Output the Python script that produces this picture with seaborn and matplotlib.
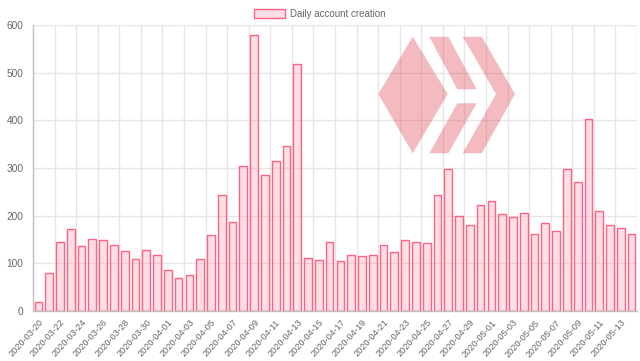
import numpy as np
import pandas as pd
import seaborn as sns
import matplotlib.pyplot as plt
from matplotlib.patches import Polygon, Patch

# daily account creation, 2020-03-20 .. 2020-05-14
dates = pd.date_range("2020-03-20", "2020-05-14").strftime("%Y-%m-%d").tolist()
counts = [18, 79, 144, 171, 136, 151, 148, 139, 126, 110,
          128, 117, 85, 70, 76, 110, 159, 243, 187, 305,
          580, 285, 314, 346, 518, 111, 108, 145, 104, 118,
          115, 118, 138, 123, 148, 144, 143, 243, 298, 199,
          180, 222, 231, 203, 197, 205, 161, 184, 168, 297,
          271, 402, 210, 180, 175, 162]
legend_label = "Daily account creation"

df = pd.DataFrame({"date": dates, "count": counts})

sns.set_style("white")
plt.rcParams["font.family"] = ["Liberation Sans", "DejaVu Sans"]

fig = plt.figure(figsize=(6.4, 3.61), dpi=100)
ax = fig.add_axes([33 / 640, 1 - 311 / 361, 604 / 640, 286 / 361])

pink = (1.0, 0.388, 0.518)
grid_c = "#e6e6e6"
sns.barplot(data=df, x="date", y="count", ax=ax, width=0.72, saturation=1,
            color=pink, linewidth=1, edgecolor=pink, zorder=3)
for p in ax.patches:
    p.set_facecolor((*pink, 0.2))
    p.set_edgecolor(pink)

ax.set_xlim(-0.5, len(dates) - 0.5)
ax.set_ylim(0, 600)
ax.set_yticks(range(0, 601, 100))
ax.set_xticks(range(0, len(dates), 2))
ax.set_xticklabels(dates[::2], rotation=48, ha="right", rotation_mode="anchor")
ax.set_xticks(np.arange(-0.5, len(dates), 2), minor=True)
ax.set_xlabel("")
ax.set_ylabel("")

ax.tick_params(axis="x", which="major", length=0, pad=5, labelsize=6.6, labelcolor="#666666")
ax.tick_params(axis="x", which="minor", length=4, color=grid_c)
ax.tick_params(axis="y", length=3, pad=4, labelsize=7.3, labelcolor="#666666",
               color=grid_c)

ax.grid(axis="y", color=grid_c, linewidth=1, zorder=0)
ax.grid(axis="x", which="minor", color=grid_c, linewidth=1, zorder=0)
ax.set_axisbelow(True)
for side in ["top", "right"]:
    ax.spines[side].set_visible(False)
for side in ["left", "bottom"]:
    ax.spines[side].set_color("#c0c0c0")
    ax.spines[side].set_linewidth(1)

# hive logo watermark (figure pixel coords)
logo_shapes = [
    [(378.3, 94), (412.7, 36.7), (447.7, 94), (412.7, 153.3)],
    [(429.3, 36.7), (448.3, 36.7), (476.7, 89.3), (457.3, 89.3)],
    [(457.3, 103.3), (476.7, 103.3), (448.3, 153.3), (429.3, 153.3)],
    [(462.7, 36.7), (481.7, 36.7), (515, 94), (481.7, 153.3), (462.7, 153.3), (496, 94)],
]
for shape in logo_shapes:
    pts = [(x / 640, 1 - y / 361) for x, y in shape]
    fig.patches.append(Polygon(pts, closed=True, transform=fig.transFigure,
                               facecolor=(0.86, 0.2, 0.25, 0.33), edgecolor="none",
                               zorder=5))

handle = Patch(facecolor=(*pink, 0.2), edgecolor=pink, linewidth=1)
fig.legend([handle], [legend_label], loc="upper center", bbox_to_anchor=(0.5, 1.0),
           frameon=False, fontsize=7.0, labelcolor="#666666",
           handlelength=3.2, handleheight=1.0, handletextpad=0.5)

fig.savefig("out.png", dpi=100)
